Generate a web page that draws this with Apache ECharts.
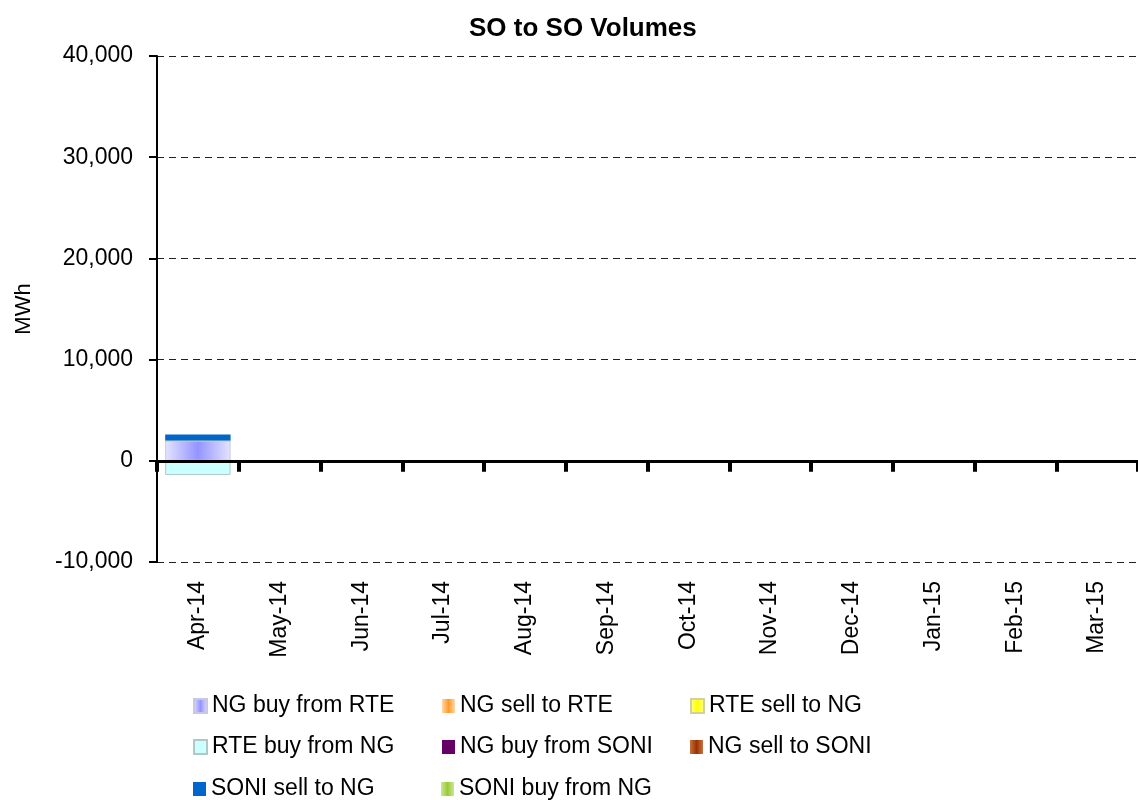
<!DOCTYPE html>
<html>
<head>
<meta charset="utf-8">
<title>SO to SO Volumes</title>
<script src="https://cdn.jsdelivr.net/npm/echarts@6/dist/echarts.min.js"></script>
<style>
  html, body { margin: 0; padding: 0; background: #fff; }
  #chart { width: 1138px; height: 800px; }
</style>
</head>
<body>
<div id="chart"></div>
<script>
// months on the x axis
var months = ['Apr-14', 'May-14', 'Jun-14', 'Jul-14', 'Aug-14', 'Sep-14',
              'Oct-14', 'Nov-14', 'Dec-14', 'Jan-15', 'Feb-15', 'Mar-15'];

// MWh per month, only April has traded volumes
var ngBuyFromRte   = [2000, 0, 0, 0, 0, 0, 0, 0, 0, 0, 0, 0];
var ngSellToRte    = [0, 0, 0, 0, 0, 0, 0, 0, 0, 0, 0, 0];
var rteSellToNg    = [0, 0, 0, 0, 0, 0, 0, 0, 0, 0, 0, 0];
var rteBuyFromNg   = [-1400, 0, 0, 0, 0, 0, 0, 0, 0, 0, 0, 0];
var ngBuyFromSoni  = [0, 0, 0, 0, 0, 0, 0, 0, 0, 0, 0, 0];
var ngSellToSoni   = [0, 0, 0, 0, 0, 0, 0, 0, 0, 0, 0, 0];
var soniSellToNg   = [600, 0, 0, 0, 0, 0, 0, 0, 0, 0, 0, 0];
var soniBuyFromNg  = [0, 0, 0, 0, 0, 0, 0, 0, 0, 0, 0, 0];

// legend rows as laid out under the chart
var legendRows = [
    ['NG buy from RTE', 'NG sell to RTE', 'RTE sell to NG'],
    ['RTE buy from NG', 'NG buy from SONI', 'NG sell to SONI'],
    ['SONI sell to NG', 'SONI buy from NG']
];

var yMin = -10000, yMax = 40000, yStep = 10000;

var FONT = '"Liberation Sans", Arial, sans-serif';

// horizontal shading like the old office charts
function shade(edge, mid) {
    return new echarts.graphic.LinearGradient(0, 0, 1, 0, [
        { offset: 0, color: edge },
        { offset: 0.5, color: mid },
        { offset: 1, color: edge }
    ]);
}

function bar(name, data, color, border) {
    return {
        name: name,
        type: 'bar',
        stack: 'vol',
        barWidth: '80%',
        data: data,
        itemStyle: {
            color: color,
            borderColor: border || 'transparent',
            borderWidth: border ? 1 : 0
        }
    };
}

var rowCenters = [706, 747, 789];
var legends = legendRows.map(function (row, i) {
    return {
        orient: 'horizontal',
        left: 193,
        top: rowCenters[i] - 12,
        padding: 0,
        itemGap: 12,
        itemWidth: 13,
        itemHeight: 14,
        icon: 'rect',
        textStyle: {
            fontFamily: FONT, fontSize: 23, color: '#000',
            lineHeight: 24, width: 218, overflow: 'none'
        },
        data: row
    };
});

var chart = echarts.init(document.getElementById('chart'));

chart.setOption({
    backgroundColor: '#fff',
    animation: false,
    title: {
        text: 'SO to SO Volumes',
        left: 464,
        top: 11,
        textStyle: { fontFamily: FONT, fontSize: 26, fontWeight: 'bold', color: '#000' }
    },
    grid: { left: 157, right: 0, top: 56, bottom: 238 },
    legend: legends,
    xAxis: [
        {
            // labels along the bottom of the plot
            type: 'category',
            data: months,
            position: 'bottom',
            axisLine: { show: false, onZero: false },
            axisTick: { show: false },
            axisLabel: {
                rotate: 90,
                margin: 19,
                fontFamily: FONT,
                fontSize: 23,
                color: '#000'
            }
        },
        {
            // heavy zero line with its ticks
            type: 'category',
            data: months,
            position: 'top',
            z: 10,
            axisLine: { show: true, onZero: true, lineStyle: { color: '#000', width: 3 } },
            axisTick: { show: true, inside: true, length: 11, lineStyle: { color: '#000', width: 4 } },
            axisLabel: { show: false }
        }
    ],
    yAxis: {
        type: 'value',
        min: yMin,
        max: yMax,
        interval: yStep,
        name: 'MWh',
        nameLocation: 'middle',
        nameGap: 122,
        nameRotate: 90,
        nameTextStyle: { fontFamily: FONT, fontSize: 22, color: '#000' },
        axisLine: { show: true, lineStyle: { color: '#000', width: 2 } },
        axisTick: { show: true, length: 8, lineStyle: { color: '#000', width: 2 } },
        axisLabel: {
            margin: 24,
            fontFamily: FONT,
            fontSize: 23,
            color: '#000',
            formatter: function (v) { return v.toLocaleString('en-US'); }
        },
        splitLine: { show: true, lineStyle: { color: '#222', type: [7, 5], width: 1 } }
    },
    series: [
        bar('NG buy from RTE', ngBuyFromRte, shade('#e4e4ff', '#9494ff'), '#c8c8e0'),
        bar('NG sell to RTE', ngSellToRte, shade('#ffd9a8', '#ff9a2a')),
        bar('RTE sell to NG', rteSellToNg, shade('#ffff99', '#ffff00'), '#d0d0a0'),
        bar('RTE buy from NG', rteBuyFromNg, '#ccffff', '#b0c8c8'),
        bar('NG buy from SONI', ngBuyFromSoni, '#660066'),
        bar('NG sell to SONI', ngSellToSoni, shade('#c87040', '#993300')),
        bar('SONI sell to NG', soniSellToNg, '#0066cc'),
        bar('SONI buy from NG', soniBuyFromNg, shade('#cce699', '#99cc33'))
    ]
});
</script>
</body>
</html>
